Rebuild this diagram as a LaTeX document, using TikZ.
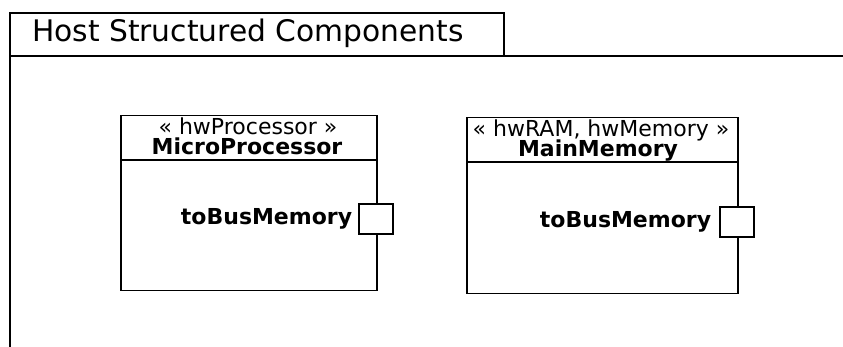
\documentclass[tikz,border=0pt]{standalone}
\usepackage{fontspec}
\setmainfont{DejaVu Sans}
\usetikzlibrary{positioning,calc}
\tikzset{
  block/.style={draw, line width=1.5pt, rectangle, inner sep=0pt, anchor=north west},
  port/.style={draw, fill=white, line width=1.3pt, rectangle, inner sep=0pt, minimum width=34pt, minimum height=30pt},
  stereo/.style={inner sep=0pt, anchor=base, text height=13pt, text depth=1pt, font=\fontsize{22}{24}\selectfont},
  bname/.style={inner sep=0pt, anchor=base, text height=13pt, text depth=1pt, font=\fontsize{22}{24}\selectfont\bfseries},
  plabel/.style={inner sep=0pt, font=\fontsize{22}{24}\selectfont\bfseries}
}
\begin{document}
\begin{tikzpicture}[x=1pt,y=-1pt]
  \useasboundingbox (0,0) rectangle (843,347);
  % frame
  \draw[line width=2pt] (10,347) -- (10,13) -- (504,13) -- (504,56);
  \draw[line width=2pt] (10,56) -- (843,56);
  \node[anchor=west, inner sep=0pt, font=\fontsize{29.7}{31}\selectfont] (title) at (32,33) {Host Structured Components};
  % MicroProcessor
  \node[block, minimum width=256pt, minimum height=175pt] (mp) at (120,115) {};
  \draw[line width=1.2pt] ($(mp.north west)+(0,45)$) -- ($(mp.north east)+(0,45)$);
  \node[stereo] (mpst) at (248,135) {« hwProcessor »};
  \node[bname] (mpname) at (247,155) {MicroProcessor};
  \node[port] (mpport) at (376,219) {};
  \node[plabel, anchor=east, left=6pt of mpport] (mplab) {toBusMemory};
  % MainMemory
  \node[block, minimum width=271pt, minimum height=176pt] (mm) at (466,117) {};
  \draw[line width=1.2pt] ($(mm.north west)+(0,45)$) -- ($(mm.north east)+(0,45)$);
  \node[stereo] (mmst) at (601,137) {« hwRAM, hwMemory »};
  \node[bname] (mmname) at (598,157) {MainMemory};
  \node[port] (mmport) at (737,222) {};
  \node[plabel, anchor=east, left=8pt of mmport] (mmlab) {toBusMemory};
\end{tikzpicture}
\end{document}
